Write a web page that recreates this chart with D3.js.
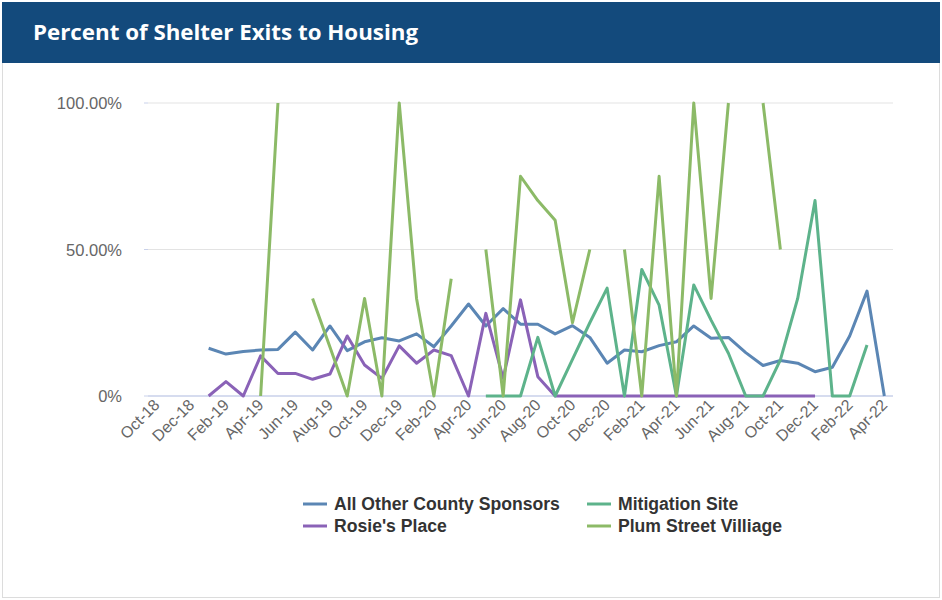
<!DOCTYPE html>
<html>
<head>
<meta charset="utf-8">
<script src="https://cdn.jsdelivr.net/npm/d3@7"></script>
<style>
  html, body { margin: 0; padding: 0; background: #fff; }
  svg { display: block; }
</style>
</head>
<body>
<svg id="chart" width="942" height="600"></svg>
<script>
// Monthly categories, Oct-18 .. Apr-22
const months = ["Oct-18","Nov-18","Dec-18","Jan-19","Feb-19","Mar-19","Apr-19","May-19","Jun-19","Jul-19",
  "Aug-19","Sep-19","Oct-19","Nov-19","Dec-19","Jan-20","Feb-20","Mar-20","Apr-20","May-20",
  "Jun-20","Jul-20","Aug-20","Sep-20","Oct-20","Nov-20","Dec-20","Jan-21","Feb-21","Mar-21",
  "Apr-21","May-21","Jun-21","Jul-21","Aug-21","Sep-21","Oct-21","Nov-21","Dec-21","Jan-22",
  "Feb-22","Mar-22","Apr-22"];

// Percent of exits to housing (null = no data that month)
const allOtherCounty = [null,null,null,16.3,14.3,15.2,15.7,15.9,21.8,15.7,
  23.9,15.5,18.5,19.9,18.8,21.2,16.8,23.9,31.4,23.9,
  29.8,24.5,24.5,21.2,24.0,20.0,11.2,15.7,15.1,17.2,
  18.5,23.9,19.7,20.0,14.8,10.4,12.1,11.2,8.3,9.8,
  20.5,35.8,0];
const rosiesPlace = [null,null,null,0,4.9,0,13.7,7.7,7.7,5.7,
  7.5,20.5,10.6,6.0,17.1,11.2,15.7,13.8,0,28.2,
  6.0,32.8,6.6,0,0,0,0,0,0,0,
  0,0,0,0,0,0,0,0,0,null,
  null,null,null];
const mitigationSite = [null,null,null,null,null,null,null,null,null,null,
  null,null,null,null,null,null,null,null,null,0,
  0,0,20.0,0,12.5,25.0,36.8,0,43.2,31.0,
  0,37.9,25.9,14.6,0,0,12.3,33.3,66.7,0,
  0,17.4,null];
const plumStreet = [null,null,null,null,null,null,0,100,null,33.3,
  16.7,0,33.3,0,100,33.3,0,40.0,null,50.0,
  0,75.0,66.7,60.0,25.0,50.0,null,50.0,0,75.0,
  0,100,33.3,100,null,100,50.0,null,null,null,
  null,null,null];

const yTicks = [0, 50, 100];
const yTickLabels = ["0%", "50.00%", "100.00%"];

const seriesNames = ["All Other County Sponsors", "Rosie's Place", "Mitigation Site", "Plum Street Villiage"];
const seriesColors = ["#5b86b4", "#8a62b7", "#5db38b", "#8cba67"];
const seriesData = [allOtherCounty, rosiesPlace, mitigationSite, plumStreet];

const svg = d3.select("#chart");
const W = 942, H = 600;

// Card frame and header band
svg.append("rect").attr("x", 2.5).attr("y", 2.5).attr("width", W - 5).attr("height", H - 5)
  .attr("fill", "#fff").attr("stroke", "#dcdcdc");
svg.append("rect").attr("x", 2).attr("y", 2).attr("width", W - 4).attr("height", 61)
  .attr("fill", "#134a7c");
svg.append("text").attr("x", 33).attr("y", 40)
  .attr("fill", "#fff").attr("font-family", "'Open Sans', sans-serif")
  .attr("font-weight", 700).attr("font-size", 22)
  .attr("textLength", 385).attr("lengthAdjust", "spacingAndGlyphs")
  .text("Percent of Shelter Exits to Housing");

const plot = { left: 148, right: 893, top: 103, bottom: 396 };

const x = d3.scaleBand().domain(months).range([plot.left, plot.right]).paddingInner(0).paddingOuter(0);
const xc = m => x(m) + x.bandwidth() / 2;
const y = d3.scaleLinear().domain([0, 100]).range([plot.bottom, plot.top]);

// Horizontal gridlines
const grid = svg.append("g");
yTicks.forEach(t => {
  grid.append("line")
    .attr("x1", plot.left).attr("x2", plot.right)
    .attr("y1", y(t)).attr("y2", y(t))
    .attr("stroke", t === 0 ? "#c9d1ea" : "#e3e3e3").attr("stroke-width", t === 0 ? 1.5 : 1.2);
  grid.append("line")
    .attr("x1", plot.left - 4).attr("x2", plot.left)
    .attr("y1", y(t)).attr("y2", y(t))
    .attr("stroke", "#c9d1ea");
});

// Y axis labels
const yAxis = d3.axisLeft(y).tickValues(yTicks)
  .tickFormat((d, i) => yTickLabels[i]).tickSize(0).tickPadding(0);
const yg = svg.append("g").attr("transform", `translate(${plot.left - 26},0)`).call(yAxis);
yg.select(".domain").remove();
yg.selectAll("text").attr("font-family", "'Liberation Sans', Arial, sans-serif")
  .attr("font-size", 16.5).attr("fill", "#666").attr("dy", "0.35em");

// X axis labels (every other month)
const xAxis = d3.axisBottom(x).tickValues(months.filter((m, i) => i % 2 === 0)).tickSize(0).tickPadding(0);
const xg = svg.append("g").attr("transform", `translate(0,${plot.bottom})`).call(xAxis);
xg.select(".domain").remove();
xg.selectAll(".tick text")
  .attr("font-family", "'Liberation Sans', Arial, sans-serif")
  .attr("font-size", 16).attr("fill", "#666")
  .attr("text-anchor", "end").attr("dy", 0).attr("y", 0)
  .attr("transform", "translate(4,10) rotate(-45)");

// Series lines
const line = d3.line()
  .defined(d => d.v !== null)
  .x(d => xc(d.m))
  .y(d => y(d.v));

seriesData.forEach((vals, k) => {
  const pts = vals.map((v, i) => ({ m: months[i], v }));
  svg.append("path").datum(pts)
    .attr("d", line)
    .attr("fill", "none")
    .attr("stroke", seriesColors[k])
    .attr("stroke-width", 3)
    .attr("stroke-linejoin", "round");
});

// Legend: two columns, two rows
const legendPos = [
  { x: 303, y: 504 }, { x: 303, y: 526 },
  { x: 587, y: 504 }, { x: 587, y: 526 }
];
seriesNames.forEach((name, k) => {
  const p = legendPos[k];
  const g = svg.append("g").attr("transform", `translate(${p.x},${p.y})`);
  g.append("line").attr("x1", 0).attr("x2", 24).attr("y1", 0).attr("y2", 0)
    .attr("stroke", seriesColors[k]).attr("stroke-width", 3);
  g.append("text").attr("x", 31).attr("y", 0).attr("dy", "0.36em")
    .attr("font-family", "'Liberation Sans', Arial, sans-serif")
    .attr("font-weight", 700).attr("font-size", 17.6).attr("fill", "#333")
    .text(name);
});
</script>
</body>
</html>
